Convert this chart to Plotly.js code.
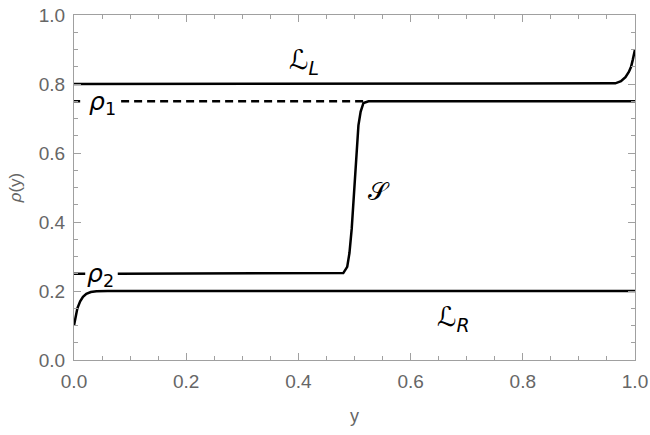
<!DOCTYPE html>
<html><head><meta charset="utf-8">
<script src="https://cdn.plot.ly/plotly-3.0.1.min.js"></script>
<style>html,body{margin:0;padding:0;background:#fff}#chart{width:650px;height:435px}</style>
</head><body><div id="chart"></div>
<script>
// L_L curve (boundary layer at y=1)
const llX = [0, 0.95, 0.965, 0.975, 0.983, 0.989, 0.993, 0.996, 0.998, 1.0];
const llY = [0.8, 0.8, 0.802, 0.808, 0.82, 0.835, 0.85, 0.87, 0.885, 0.9];
// L_R curve (boundary layer at y=0)
const lrX = [0, 0.003, 0.006, 0.011, 0.016, 0.022, 0.03, 0.04, 0.06, 1.0];
const lrY = [0.1, 0.125, 0.15, 0.17, 0.183, 0.192, 0.197, 0.199, 0.2, 0.2];
// shock S (broken where the rho2 label sits)
const sX = [0, 0.02, null, 0.078, 0.47, 0.48, 0.487, 0.491, 0.495, 0.498, 0.501, 0.504, 0.507, 0.511, 0.516, 0.525, 1.0];
const sY = [0.25, 0.25, null, 0.25, 0.25, 0.252, 0.27, 0.31, 0.38, 0.46, 0.54, 0.62, 0.68, 0.72, 0.745, 0.75, 0.75];
// rho1 dashed level (broken where the rho1 label sits)
const rho1X = [0, 0.011, null, 0.084, 0.52];
const rho1Y = [0.75, 0.75, null, 0.75, 0.75];
const tickVals = [0, 0.2, 0.4, 0.6, 0.8, 1.0];
const tickText = ["0.0", "0.2", "0.4", "0.6", "0.8", "1.0"];

const black = '#000';
const traces = [
  {x: rho1X, y: rho1Y, mode: 'lines', connectgaps: false, line: {color: black, width: 2.5, dash: '8px,5px'}},
  {x: sX, y: sY, mode: 'lines', connectgaps: false, line: {color: black, width: 2.5}},
  {x: llX, y: llY, mode: 'lines', line: {color: black, width: 2.5}},
  {x: lrX, y: lrY, mode: 'lines', line: {color: black, width: 2.5}}
];
const axisCommon = {
  range: [0, 1], showgrid: false, zeroline: false,
  showline: true, linecolor: '#a0a0a0', linewidth: 1, mirror: 'allticks',
  ticks: 'inside', ticklen: 7, tickcolor: '#a0a0a0', tickwidth: 1,
  tickvals: tickVals, ticktext: tickText,
  tickfont: {family: 'Liberation Sans, Arial, sans-serif', size: 19, color: '#666'},
  minor: {dtick: 0.05, ticks: 'inside', ticklen: 4, tickcolor: '#a0a0a0', tickwidth: 1, showgrid: false}
};
const annFont = {family: 'DejaVu Sans, sans-serif', size: 27, color: '#000'};
const rhoFont = {family: 'DejaVu Sans, sans-serif', size: 25, color: '#000'};
const layout = {
  width: 650, height: 435,
  margin: {l: 74, r: 15, t: 15, b: 75},
  paper_bgcolor: '#fff', plot_bgcolor: '#fff',
  showlegend: false,
  xaxis: Object.assign({}, axisCommon, {
    ticklabelstandoff: 4,
    title: {text: 'y', font: {family: 'Liberation Sans, Arial, sans-serif', size: 18, color: '#666'}, standoff: 18}
  }),
  yaxis: Object.assign({}, axisCommon, {
    ticklabelstandoff: 4,
    title: {text: '<i>ρ</i>(y)', font: {family: 'Liberation Sans, Arial, sans-serif', size: 17, color: '#666'}, standoff: 12}
  }),
  annotations: [
    {x: 0.41, y: 0.865, xref: 'x', yref: 'y', text: 'ℒ<sub><i>L</i></sub>', showarrow: false, font: annFont},
    {x: 0.676, y: 0.12, xref: 'x', yref: 'y', text: 'ℒ<sub><i>R</i></sub>', showarrow: false, font: annFont},
    {x: 0.544, y: 0.487, xref: 'x', yref: 'y', text: '𝒮', showarrow: false, font: {family: 'DejaVu Sans, sans-serif', size: 25, color: '#000'}},
    {x: 0.05, y: 0.745, xref: 'x', yref: 'y', text: '<i>ρ</i><sub>1</sub>', showarrow: false, font: rhoFont},
    {x: 0.048, y: 0.245, xref: 'x', yref: 'y', text: '<i>ρ</i><sub>2</sub>', showarrow: false, font: rhoFont}
  ]
};
Plotly.newPlot('chart', traces, layout, {staticPlot: true});
</script></body></html>
